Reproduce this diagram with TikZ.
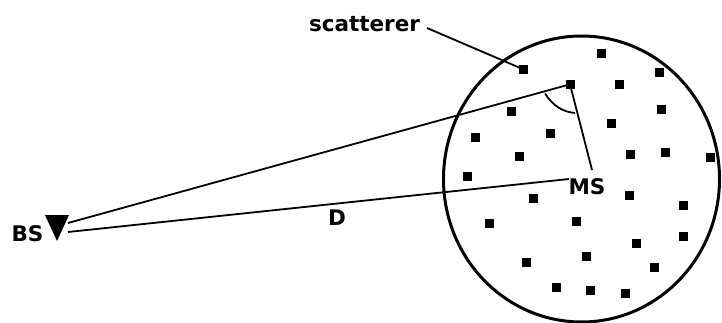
\documentclass[tikz,border=0pt]{standalone}
\usetikzlibrary{shapes.geometric}
\usepackage{fontspec}
\setmainfont{DejaVu Sans}
\begin{document}
\begin{tikzpicture}[x=1pt,y=-1pt,
  lbl/.style={font=\bfseries\fontsize{21.5}{21.5}\selectfont, inner sep=0pt},
  sc/.style={fill=black, draw=none, minimum size=9pt, inner sep=0pt, rectangle},
  ln/.style={line width=1.8pt},
  circ/.style={line width=3pt}]
\useasboundingbox (0,0) rectangle (722,323);
% region
\node[draw, circ, ellipse, minimum width=276pt, minimum height=286pt, inner sep=0pt] (cell) at (581.5,179) {};
% scatterers
\foreach \x/\y in {601.7/53.3, 659.3/72.7, 619/84.3, 511.7/111.7, 661.7/110, 611/123.3,
  475/137.3, 550.7/133.3, 519.3/156.7, 630.7/154.3, 665.7/152.7, 710.7/157.7, 467.7/176.7,
  533.3/198.3, 629/195.7, 683.3/205.7, 489.3/223.3, 576/221.7, 636.7/243.3, 683.3/236.7,
  526/262.7, 586/256.7, 654.3/267.3, 556.7/287.3, 590/290.7, 625/293.3}
  \node[sc] at (\x,\y) {};
\node[sc] (s1) at (523.3,69.3) {};
\node[sc] (s2) at (570,84.3) {};
% BS
\coordinate (bsa) at (57,241);
\coordinate (bsl) at (45,215);
\coordinate (bsr) at (69,215);
\fill (bsl) -- (bsr) -- (bsa) -- cycle;
\coordinate (bsu) at (68,223);
\coordinate (bsd) at (68,232);
\node[lbl] (bs) at (27.5,234) {BS};
% MS
\node[lbl] (ms) at (587,187) {MS};
\coordinate (msl) at (569,179);
\coordinate (mst) at (592,170);
% links
\draw[ln] (bsu) -- (s2.center);
\draw[ln] (bsd) -- (msl);
\draw[ln] (s2.center) -- (mst);
% angle arc
\draw[ln] (545,93.5) .. controls (553,106) and (563,112) .. (575,113);
% labels
\node[lbl] (d) at (337,218) {D};
\node[lbl] (scat) at (364.5,24) {scatterer};
\coordinate (sl) at (427,28);
\draw[ln] (sl) -- (s1.center);
\end{tikzpicture}
\end{document}
